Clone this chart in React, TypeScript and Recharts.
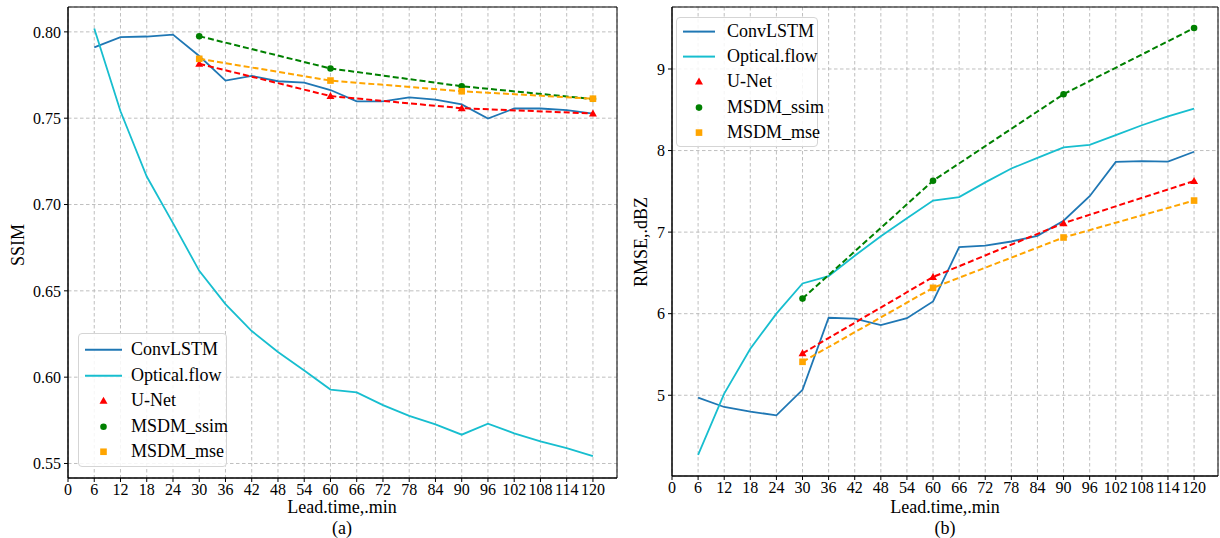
import React from "react";
import { LineChart, Line, XAxis, YAxis, CartesianGrid, ReferenceArea } from "recharts";

// lead times (minutes) of the full forecast sequence
const leadTimes = [6, 12, 18, 24, 30, 36, 42, 48, 54, 60, 66, 72, 78, 84, 90, 96, 102, 108, 114, 120];
// lead times where the diffusion / U-Net models were evaluated
const modelTimes = [30, 60, 90, 120];
const xTicks = [0, 6, 12, 18, 24, 30, 36, 42, 48, 54, 60, 66, 72, 78, 84, 90, 96, 102, 108, 114, 120];

// (a) SSIM
const ssimConvLSTM = [0.791, 0.7969, 0.7973, 0.7984, 0.786, 0.7718, 0.7745, 0.7714, 0.7706, 0.7663, 0.7597, 0.7597, 0.7621, 0.7607, 0.758, 0.7498, 0.7556, 0.7556, 0.7547, 0.7527];
const ssimOpticalFlow = [0.8019, 0.754, 0.7162, 0.6892, 0.6616, 0.6423, 0.6267, 0.6146, 0.6039, 0.5928, 0.5912, 0.5838, 0.5776, 0.5727, 0.5667, 0.5731, 0.5675, 0.5628, 0.5589, 0.5543];
const ssimUNet = [0.7815, 0.7628, 0.7558, 0.7527];
const ssimMsdmSsim = [0.7975, 0.7788, 0.7685, 0.7611];
const ssimMsdmMse = [0.7844, 0.7718, 0.7656, 0.7613];
const ssimTicks = [0.55, 0.6, 0.65, 0.7, 0.75, 0.8];

// (b) RMSE
const rmseConvLSTM = [4.97, 4.856, 4.8, 4.753, 5.066, 5.95, 5.94, 5.86, 5.945, 6.15, 6.815, 6.835, 6.885, 6.955, 7.14, 7.44, 7.86, 7.87, 7.865, 7.985];
const rmseOpticalFlow = [4.27, 5.02, 5.57, 6.0, 6.37, 6.46, 6.71, 6.95, 7.17, 7.387, 7.43, 7.61, 7.78, 7.91, 8.04, 8.07, 8.19, 8.31, 8.42, 8.514];
const rmseUNet = [5.514, 6.45, 7.11, 7.626];
const rmseMsdmSsim = [6.185, 7.63, 8.691, 9.502];
const rmseMsdmMse = [5.41, 6.317, 6.934, 7.387];
const rmseTicks = [5, 6, 7, 8, 9];

const FONT = "'Liberation Serif', 'DejaVu Serif', serif";

const series = [
  { key: "conv", name: "ConvLSTM", color: "#1f77b4", marker: null, dashed: false },
  { key: "flow", name: "Optical.flow", color: "#17becf", marker: null, dashed: false },
  { key: "unet", name: "U-Net", color: "#ff0000", marker: "triangle", dashed: true },
  { key: "ssim", name: "MSDM_ssim", color: "#008000", marker: "circle", dashed: true },
  { key: "mse", name: "MSDM_mse", color: "#ffa500", marker: "square", dashed: true },
];

function buildRows(conv: number[], flow: number[], unet: number[], ssim: number[], mse: number[]) {
  return leadTimes.map((t, i) => {
    const k = modelTimes.indexOf(t);
    return {
      t,
      conv: conv[i],
      flow: flow[i],
      unet: k >= 0 ? unet[k] : null,
      ssim: k >= 0 ? ssim[k] : null,
      mse: k >= 0 ? mse[k] : null,
    };
  });
}

const ssimRows = buildRows(ssimConvLSTM, ssimOpticalFlow, ssimUNet, ssimMsdmSsim, ssimMsdmMse);
const rmseRows = buildRows(rmseConvLSTM, rmseOpticalFlow, rmseUNet, rmseMsdmSsim, rmseMsdmMse);

function Marker({ shape, color, cx, cy }: { shape: string; color: string; cx: number; cy: number }) {
  if (shape === "triangle") {
    const s = 4;
    return <polygon points={`${cx},${cy - s} ${cx - s},${cy + s * 0.75} ${cx + s},${cy + s * 0.75}`} fill={color} />;
  }
  if (shape === "circle") return <circle cx={cx} cy={cy} r={3.3} fill={color} />;
  return <rect x={cx - 3.3} y={cy - 3.3} width={6.6} height={6.6} fill={color} />;
}

const makeDot = (shape: string, color: string) => (props: any) => {
  const { cx, cy, value, index } = props;
  if (cx == null || cy == null || value == null) return <g key={`e-${index}`} />;
  return (
    <g key={`d-${index}`}>
      <Marker shape={shape} color={color} cx={cx} cy={cy} />
    </g>
  );
};

function LegendBox({ left, top, width, height, rowH, padTop, handleX, handleW, textX }: any) {
  return (
    <div
      style={{
        position: "absolute",
        left,
        top,
        width,
        height,
        boxSizing: "border-box",
        border: "1px solid #d5d5d5",
        borderRadius: 4,
        background: "rgba(255,255,255,0.85)",
        fontFamily: FONT,
        fontSize: 18,
      }}
    >
      {series.map((s, i) => (
        <div key={s.key} style={{ position: "absolute", left: 0, top: padTop + i * rowH - 1, height: rowH, width: "100%" }}>
          <svg width={handleX + handleW + 4} height={rowH} style={{ position: "absolute", left: 0, top: 0 }}>
            {s.marker ? (
              <Marker shape={s.marker} color={s.color} cx={handleX + handleW / 2} cy={rowH / 2} />
            ) : (
              <line x1={handleX} x2={handleX + handleW} y1={rowH / 2} y2={rowH / 2} stroke={s.color} strokeWidth={2} />
            )}
          </svg>
          <span style={{ position: "absolute", left: textX, top: 0, lineHeight: `${rowH}px`, whiteSpace: "nowrap" }}>{s.name}</span>
        </div>
      ))}
    </div>
  );
}

function Panel({ rows, yDomain, yTicks, yFormat, width, height, marginRight }: any) {
  const tickStyle = { fontFamily: FONT, fontSize: 16, fill: "#000" };
  return (
    <LineChart width={width} height={height} data={rows} margin={{ top: 7, right: marginRight, bottom: 0, left: 0 }}>
      <CartesianGrid stroke="#b8b8b8" strokeDasharray="3.5 2.5" strokeWidth={0.9} />
      <XAxis
        dataKey="t"
        type="number"
        domain={[0, 125.5]}
        ticks={xTicks}
        interval={0}
        allowDataOverflow
        height={22}
        tick={tickStyle}
        tickSize={4}
        tickMargin={2}
        stroke="#000"
        axisLine={{ stroke: "#000" }}
        tickLine={{ stroke: "#000" }}
      />
      <YAxis
        type="number"
        domain={yDomain}
        ticks={yTicks}
        interval={0}
        allowDataOverflow
        width={68}
        tick={tickStyle}
        tickFormatter={yFormat}
        tickSize={4}
        tickMargin={3}
        axisLine={{ stroke: "#000" }}
        tickLine={{ stroke: "#000" }}
      />
      {series.map((s) => (
        <Line
          key={s.key}
          dataKey={s.key}
          name={s.name}
          type="linear"
          stroke={s.color}
          strokeWidth={s.dashed ? 2 : 1.8}
          strokeDasharray={s.dashed ? "6 3" : undefined}
          connectNulls
          dot={s.marker ? makeDot(s.marker, s.color) : false}
          activeDot={false}
          isAnimationActive={false}
        />
      ))}
      <ReferenceArea x1={0} x2={125.5} y1={yDomain[0]} y2={yDomain[1]} fill="none" stroke="#000" strokeWidth={1} ifOverflow="visible" />
    </LineChart>
  );
}

const textStyle: React.CSSProperties = { position: "absolute", fontFamily: FONT, fontSize: 18, whiteSpace: "nowrap", color: "#000" };

export default function App() {
  return (
    <div style={{ position: "fixed", left: 0, top: 0, width: 1220, height: 538, background: "#fff", overflow: "hidden" }}>
      <div style={{ position: "absolute", left: 0, top: 0 }}>
        <Panel rows={ssimRows} yDomain={[0.5416, 0.8144]} yTicks={ssimTicks} yFormat={(v: number) => v.toFixed(2)} width={620} height={500} marginRight={3} />
      </div>
      <div style={{ position: "absolute", left: 604, top: 0 }}>
        <Panel rows={rmseRows} yDomain={[4.01, 9.76]} yTicks={rmseTicks} yFormat={(v: number) => String(v)} width={616} height={498} marginRight={2} />
      </div>

      <LegendBox left={78} top={333} width={149} height={134} rowH={25.5} padTop={4} handleX={6} handleW={37} textX={52} />
      <LegendBox left={676} top={17} width={142} height={130} rowH={25.2} padTop={2} handleX={6} handleW={32} textX={50} />

      <div style={{ ...textStyle, left: 18, top: 245, transform: "translate(-50%, -50%) rotate(-90deg)" }}>SSIM</div>
      <div style={{ ...textStyle, left: 641, top: 242, transform: "translate(-50%, -50%) rotate(-90deg)" }}>RMSE,.dBZ</div>

      <div style={{ ...textStyle, left: 342, top: 507, transform: "translate(-50%, -50%)" }}>Lead.time,.min</div>
      <div style={{ ...textStyle, left: 342, top: 528, transform: "translate(-50%, -50%)" }}>(a)</div>
      <div style={{ ...textStyle, left: 945, top: 507, transform: "translate(-50%, -50%)" }}>Lead.time,.min</div>
      <div style={{ ...textStyle, left: 945, top: 528, transform: "translate(-50%, -50%)" }}>(b)</div>
    </div>
  );
}
